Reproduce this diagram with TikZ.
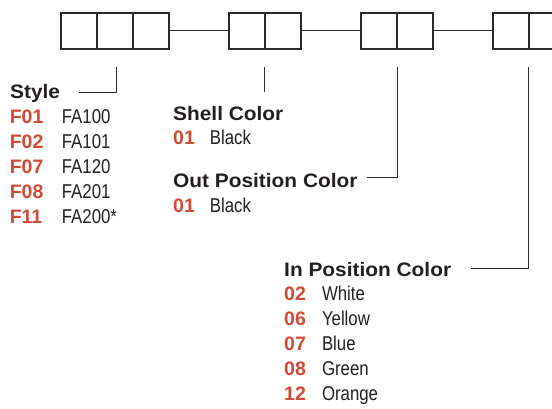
\documentclass[tikz,border=0pt]{standalone}
\usepackage{fontspec}
\usepackage{graphicx}
\setmainfont{Liberation Sans}
\definecolor{codered}{HTML}{D14A36}
\definecolor{ink}{HTML}{231F20}
\definecolor{linec}{HTML}{2A2A2A}
\newcommand\hd[1]{\scalebox{1.07}[1]{\fontsize{19.5}{22}\selectfont\bfseries #1}}
\newcommand\cd[1]{{\fontsize{19.5}{22}\selectfont\bfseries\color{codered}#1}}
\newcommand\nm[1]{\scalebox{0.84}[1]{\fontsize{20}{22}\selectfont #1}}
\tikzset{
  cell/.style={draw=linec, line width=1.3pt, fill=white, minimum width=36pt, minimum height=36pt, inner sep=0pt},
  lbl/.style={anchor=base west, inner sep=0pt, text=ink},
  joinline/.style={draw=linec, line width=1pt},
  leader/.style={draw=linec, line width=1pt}
}
\begin{document}
\begin{tikzpicture}[x=1pt,y=-1pt]
\useasboundingbox (0,0) rectangle (552,409);
\clip (0,0) rectangle (552,409);
% boxes
\node[cell] (a1) at (79,31) {};
\node[cell] (a2) at (115,31) {};
\node[cell] (a3) at (151,31) {};
\node[cell] (b1) at (247,31) {};
\node[cell] (b2) at (283,31) {};
\node[cell] (c1) at (379,31) {};
\node[cell] (c2) at (415,31) {};
\node[cell] (d1) at (511,31) {};
\node[cell] (d2) at (547,31) {};
\draw[joinline] (a3.east) -- (b1.west);
\draw[joinline] (b2.east) -- (c1.west);
\draw[joinline] (c2.east) -- (d1.west);
% leader coordinates
\coordinate (sTop) at (116,67);
\coordinate (sEnd) at (79,93);
\coordinate (hTop) at (264,67);
\coordinate (hEnd) at (264,92);
\coordinate (oTop) at (397,67);
\coordinate (oEnd) at (367,178);
\coordinate (iTop) at (528,67);
\coordinate (iEnd) at (471,268);
\draw[leader] (sTop) |- (sEnd);
\draw[leader] (hTop) -- (hEnd);
\draw[leader] (oTop) |- (oEnd);
\draw[leader] (iTop) |- (iEnd);
% Style
\node[lbl] (styleh) at (10,99) {\hd{Style}};
\node[lbl] (s1c) at (9.6,124) {\cd{F01}};
\node[lbl] (s1n) at (61.7,124) {\nm{FA100}};
\node[lbl] (s2c) at (9.6,149) {\cd{F02}};
\node[lbl] (s2n) at (61.7,149) {\nm{FA101}};
\node[lbl] (s3c) at (9.6,174) {\cd{F07}};
\node[lbl] (s3n) at (61.7,174) {\nm{FA120}};
\node[lbl] (s4c) at (9.6,199) {\cd{F08}};
\node[lbl] (s4n) at (61.7,199) {\nm{FA201}};
\node[lbl] (s5c) at (9.6,224) {\cd{F11}};
\node[lbl] (s5n) at (61.7,224) {\nm{FA200*}};
% Shell
\node[lbl] (shellh) at (173,121) {\hd{Shell Color}};
\node[lbl] (h1c) at (173,145) {\cd{01}};
\node[lbl] (h1n) at (209.7,145) {\nm{Black}};
% Out
\node[lbl] (outh) at (173,188) {\hd{Out Position Color}};
\node[lbl] (o1c) at (173,212) {\cd{01}};
\node[lbl] (o1n) at (209.7,212) {\nm{Black}};
% In
\node[lbl] (inh) at (284,276) {\hd{In Position Color}};
\node[lbl] (i1c) at (284,300) {\cd{02}};
\node[lbl] (i1n) at (321.8,300) {\nm{White}};
\node[lbl] (i2c) at (284,325) {\cd{06}};
\node[lbl] (i2n) at (321.8,325) {\nm{Yellow}};
\node[lbl] (i3c) at (284,350) {\cd{07}};
\node[lbl] (i3n) at (321.8,350) {\nm{Blue}};
\node[lbl] (i4c) at (284,375) {\cd{08}};
\node[lbl] (i4n) at (321.8,375) {\nm{Green}};
\node[lbl] (i5c) at (284,400) {\cd{12}};
\node[lbl] (i5n) at (321.8,400) {\nm{Orange}};
\end{tikzpicture}
\end{document}
